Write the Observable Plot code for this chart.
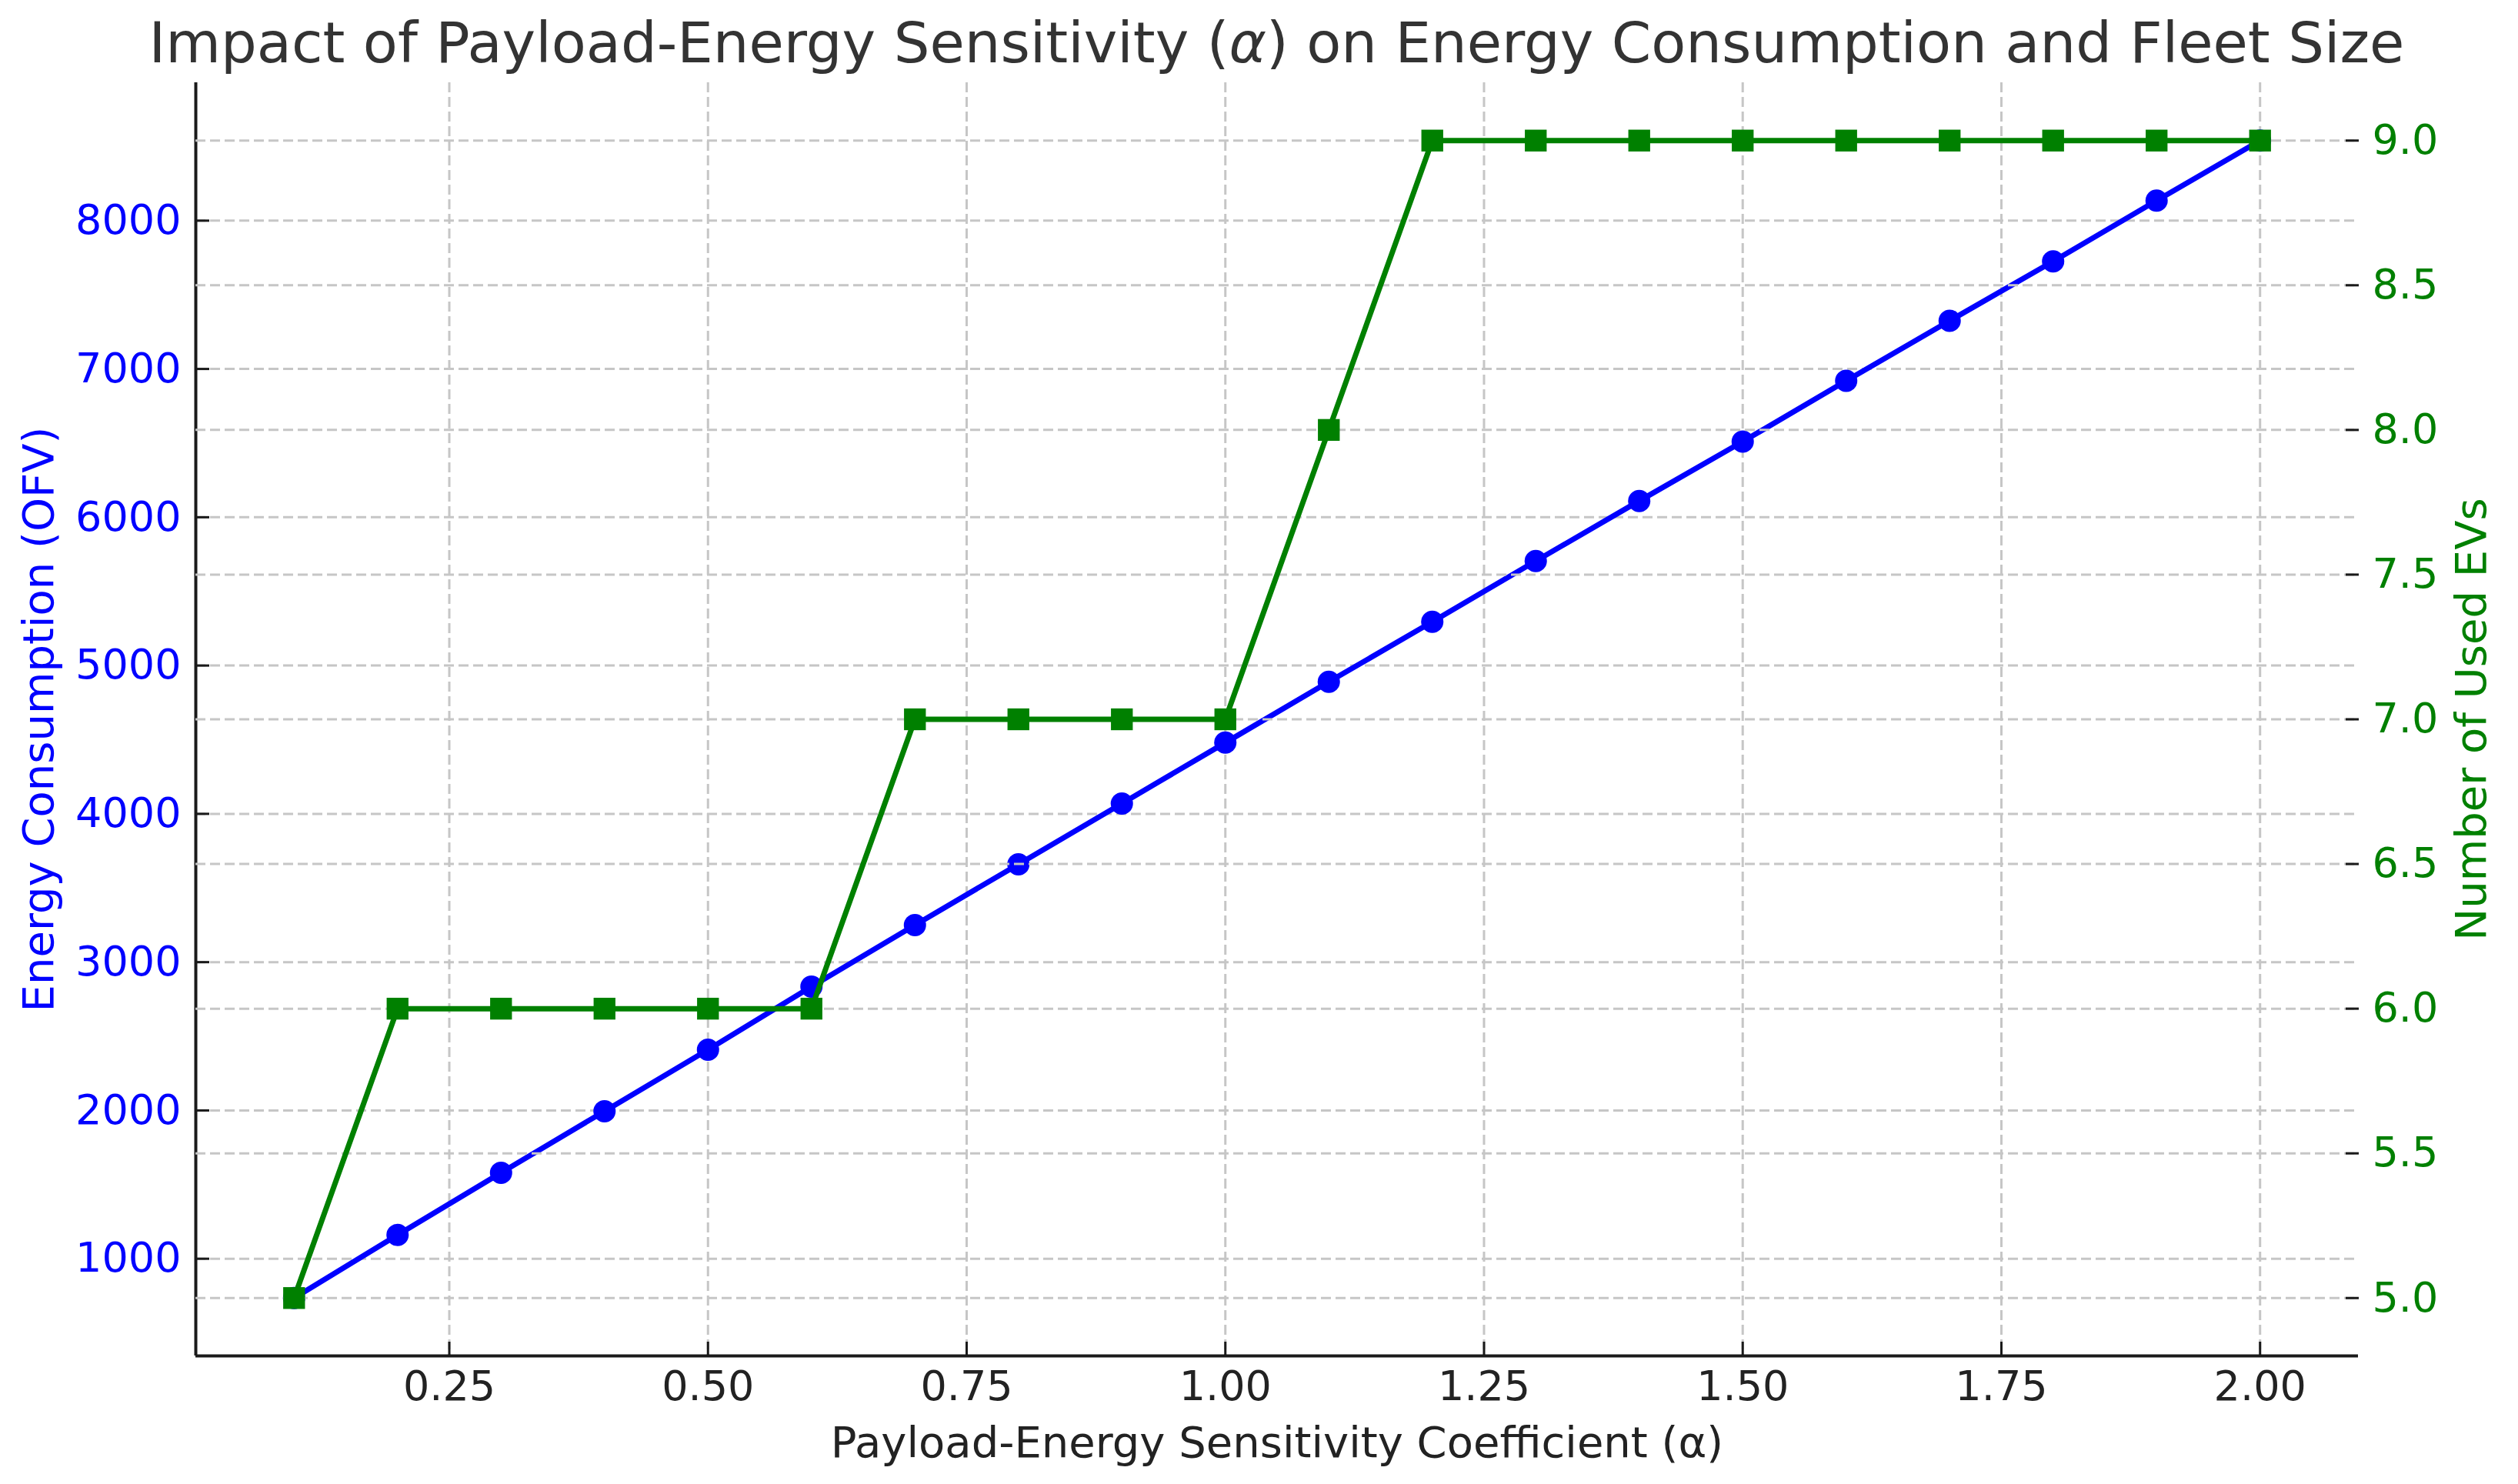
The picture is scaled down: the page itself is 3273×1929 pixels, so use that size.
<!DOCTYPE html>
<html>
<head>
<meta charset="utf-8">
<script src="https://cdn.jsdelivr.net/npm/d3@7"></script>
<script src="https://cdn.jsdelivr.net/npm/@observablehq/plot@0.6"></script>
<style>
  html, body { margin: 0; padding: 0; background: #ffffff; }
  #chart { position: relative; width: 3273px; height: 1929px; font-family: "DejaVu Sans", sans-serif; }
  #chart svg { position: absolute; left: 0; top: 0; background: transparent; }
  #title { position: absolute; left: 54px; width: 3211px; top: 19px; text-align: center;
           font-size: 73.7px; line-height: 1; color: #333333; white-space: nowrap; }
</style>
</head>
<body>
<div id="chart">
  <div id="title">Impact of Payload-Energy Sensitivity (<i>α</i>) on Energy Consumption and Fleet Size</div>
</div>
<script>
// ---- data ----
const alpha = [0.1, 0.2, 0.3, 0.4, 0.5, 0.6, 0.7, 0.8, 0.9, 1.0,
               1.1, 1.2, 1.3, 1.4, 1.5, 1.6, 1.7, 1.8, 1.9, 2.0];
const energy = [735, 1160, 1580, 1995, 2410, 2835, 3250, 3660, 4070, 4480,
                4890, 5295, 5705, 6110, 6510, 6920, 7325, 7725, 8135, 8540];
const usedEVs = [5, 6, 6, 6, 6, 6, 7, 7, 7, 7,
                 8, 9, 9, 9, 9, 9, 9, 9, 9, 9];
const xTicks = [0.25, 0.50, 0.75, 1.00, 1.25, 1.50, 1.75, 2.00];
const energyTicks = [1000, 2000, 3000, 4000, 5000, 6000, 7000, 8000];
const evTicks = [5.0, 5.5, 6.0, 6.5, 7.0, 7.5, 8.0, 8.5, 9.0];

const xLabel = "Payload-Energy Sensitivity Coefficient (α)";
const y1Label = "Energy Consumption (OFV)";
const y2Label = "Number of Used EVs";

const rows = alpha.map((a, i) => ({alpha: a, energy: energy[i], evs: usedEVs[i]}));

// matplotlib-like 5% padding around the data range
function padded(values) {
  const [lo, hi] = d3.extent(values);
  const p = (hi - lo) * 0.05;
  return [lo - p, hi + p];
}
const xDom = padded(alpha);
const y1Dom = padded(energy);
const y2Dom = padded(usedEVs);

const W = 3273, H = 1929;
const margins = {marginLeft: 254, marginRight: 208, marginTop: 107, marginBottom: 167};
const gridStyle = {stroke: "#c6c6c6", strokeOpacity: 1, strokeWidth: 3, strokeDasharray: "13,6"};
const baseStyle = {background: "transparent", fontFamily: "DejaVu Sans, sans-serif", fontSize: "54px", overflow: "visible"};

const plot1 = Plot.plot({
  width: W, height: H, ...margins,
  style: baseStyle,
  x: {type: "linear", domain: xDom},
  y: {type: "linear", domain: y1Dom},
  marks: [
    Plot.gridX(xTicks, gridStyle),
    Plot.gridY(energyTicks, gridStyle),
    Plot.line(rows, {x: "alpha", y: "energy", stroke: "blue", strokeWidth: 7, strokeLinejoin: "round"}),
    Plot.dot(rows, {x: "alpha", y: "energy", fill: "blue", r: 14.5, symbol: "circle"}),
    Plot.ruleX([xDom[0]], {stroke: "#1a1a1a", strokeWidth: 4}),
    Plot.ruleY([y1Dom[0]], {stroke: "#1a1a1a", strokeWidth: 4}),
    Plot.axisX(xTicks, {anchor: "bottom", tickSize: -18, tickPadding: 37, tickFormat: d3.format(".2f"),
                        stroke: "#1a1a1a", fill: "#222222", strokeWidth: 3, label: null, fontSize: 54}),
    Plot.axisY(energyTicks, {anchor: "left", tickSize: -18, tickPadding: 37, tickFormat: d3.format("d"),
                             stroke: "#1a1a1a", fill: "blue", strokeWidth: 3, label: null, fontSize: 54}),
    Plot.text([xLabel], {text: d => d, frameAnchor: "bottom", dy: 131, lineAnchor: "bottom",
                         textAnchor: "middle", fill: "#222222", fontSize: 56}),
    Plot.text([y1Label], {text: d => d, frameAnchor: "left", dx: -186, rotate: -90, lineAnchor: "bottom",
                          textAnchor: "middle", fill: "blue", fontSize: 56})
  ]
});

const plot2 = Plot.plot({
  width: W, height: H, ...margins,
  style: baseStyle,
  x: {type: "linear", domain: xDom, axis: null},
  y: {type: "linear", domain: y2Dom},
  marks: [
    Plot.gridY(evTicks, gridStyle),
    Plot.line(rows, {x: "alpha", y: "evs", stroke: "green", strokeWidth: 7, strokeLinejoin: "round"}),
    Plot.dot(rows, {x: "alpha", y: "evs", fill: "green", r: 16, symbol: "square"}),
    Plot.axisY(evTicks, {anchor: "right", tickSize: -17, tickPadding: 35, tickFormat: d3.format(".1f"),
                         stroke: "#1a1a1a", fill: "green", strokeWidth: 3, label: null, fontSize: 54}),
    Plot.text([y2Label], {text: d => d, frameAnchor: "right", dx: 165, rotate: -90, lineAnchor: "bottom",
                          textAnchor: "middle", fill: "green", fontSize: 56})
  ]
});

const chart = document.getElementById("chart");
chart.appendChild(plot1);
chart.appendChild(plot2);
</script>
</body>
</html>
